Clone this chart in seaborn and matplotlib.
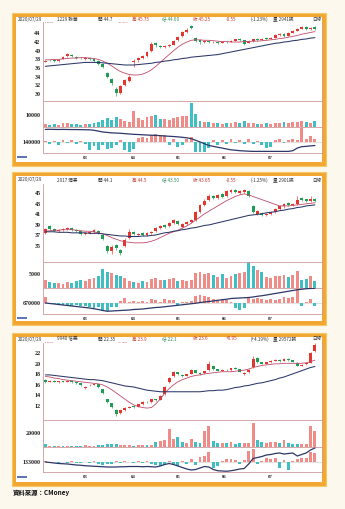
import numpy as np
import matplotlib
matplotlib.use("Agg")
import matplotlib.pyplot as plt
import seaborn as sns
from matplotlib.patches import Rectangle

sns.set_theme(style="white")
plt.rcParams["font.family"] = ["Noto Sans CJK TC", "DejaVu Sans"]

# ---------------- data ----------------
month_labels = ["03", "04", "05", "06", "07"]
month_pos = [9.0, 19.9, 30.0, 40.4, 50.8]

# Panel 1 : 1229
p1_open = [37.5,37.9,37.8,37.6,38.1,38.7,39.1,38.6,38.4,38.1,38.4,38.0,37.6,36.9,34.8,33.4,31.2,30.3,32.0,33.0,
           37.3,37.8,38.4,38.8,40.0,41.7,41.1,40.8,41.0,41.4,42.4,43.3,44.2,45.6,42.9,42.4,42.0,42.2,41.9,42.0,
           41.8,42.1,42.0,42.3,42.7,42.4,41.8,42.2,42.7,42.5,42.9,42.7,43.0,43.6,43.9,43.5,44.1,44.6,45.0,45.5,44.9,45.5]
p1_close = [37.7,37.8,37.6,37.9,38.6,39.2,38.7,38.3,38.2,38.4,38.1,37.6,37.0,36.2,34.0,32.5,30.2,31.8,33.2,34.0,
            37.6,38.3,38.7,39.6,41.6,41.2,40.9,41.0,41.3,42.3,43.2,44.3,44.8,45.2,42.3,42.0,42.2,41.9,42.0,41.8,
            42.1,42.0,42.3,42.6,42.5,41.6,42.2,42.6,42.5,42.8,42.7,43.0,43.6,43.9,43.4,44.1,44.6,45.1,45.4,44.9,45.3,45.0]
p1_high = [37.9,38.1,38.0,38.1,38.8,39.5,39.3,38.8,38.6,38.6,38.5,38.2,37.8,37.1,35.0,33.6,31.6,32.0,33.5,34.3,
           38.0,38.6,39.0,39.9,41.9,41.9,41.3,41.3,41.6,42.5,43.5,44.6,45.2,45.9,43.1,42.6,42.4,42.4,42.2,42.2,
           42.3,42.3,42.5,42.8,42.9,42.5,42.4,42.8,42.9,43.0,43.1,43.2,43.8,44.1,44.0,44.3,44.8,45.3,45.7,45.6,45.5,45.6]
p1_low = [37.3,37.6,37.4,37.5,38.0,38.6,38.5,38.1,38.0,37.9,37.9,37.4,36.8,35.9,33.7,32.0,29.6,30.0,31.8,32.8,
          36.2,37.5,38.1,38.6,39.8,40.9,40.6,40.6,40.8,41.2,42.2,43.1,44.0,44.9,41.9,41.5,41.8,41.7,41.7,41.6,
          41.7,41.8,41.9,42.2,42.3,41.4,41.7,42.1,42.3,42.4,42.5,42.6,42.9,43.4,43.2,43.4,44.0,44.5,44.9,44.7,44.8,44.8]
p1_ma_short = [37.9,37.9,38.0,38.0,38.1,38.2,38.3,38.3,38.4,38.4,38.3,38.2,38.0,37.6,37.1,36.5,35.8,35.2,34.8,34.5,
               34.4,34.4,34.6,35.0,35.6,36.4,37.3,38.2,39.1,40.0,40.8,41.5,42.0,42.4,42.5,42.5,42.4,42.4,42.3,42.2,
               42.1,42.1,42.0,42.0,42.0,42.1,42.1,42.2,42.2,42.3,42.4,42.5,42.6,42.8,42.9,43.1,43.3,43.5,43.8,44.0,44.2,44.4]
p1_ma_long = [36.4,36.5,36.6,36.7,36.8,36.9,37.0,37.1,37.2,37.3,37.3,37.3,37.3,37.2,37.1,37.0,36.9,36.8,36.7,36.7,
              36.7,36.8,36.9,37.0,37.1,37.3,37.4,37.6,37.7,37.9,38.0,38.2,38.3,38.5,38.6,38.7,38.8,38.9,39.0,39.1,
              39.3,39.5,39.7,39.9,40.1,40.3,40.5,40.7,40.9,41.1,41.3,41.5,41.7,41.8,42.0,42.1,42.3,42.4,42.6,42.7,42.9,43.0]
p1_volume = [2500,1800,2200,2000,3500,3000,2400,2100,1900,2600,2300,3000,4200,5500,7800,6200,8500,6800,5000,4500,
             13500,7500,6000,8200,9000,10200,7000,6500,5800,7200,8400,9500,8800,20000,11000,5000,4200,3800,3000,3500,
             2800,3300,3000,4000,3600,5200,3500,3000,2600,2800,3100,2500,3000,3400,4000,3500,4200,3800,4600,3900,3300,4800]
p1_netbuy = [150,-200,100,-300,250,-150,200,-250,150,-200,-900,-500,-950,-400,-850,-700,-300,200,-900,-1100,
             -800,500,600,450,800,900,700,850,-300,400,-550,-400,300,550,-1150,-1200,-1100,-700,200,-300,
             250,-200,300,-150,200,-250,350,-200,150,-300,-700,-600,200,300,-150,250,400,200,1600,300,650,350]
p1_cum = [1450,1460,1450,1440,1450,1440,1430,1430,1420,1410,1400,1350,1250,1150,1100,1050,1030,1000,960,920,
          880,860,830,800,780,760,730,690,660,630,590,540,480,380,200,0,-200,-400,-500,-600,
          -700,-800,-900,-950,-1000,-1030,-1060,-1080,-1080,-1080,-1080,-1080,-1080,-1080,-1080,-1080,-1000,-700,-540,-500,-450,-400]

# Panel 2 : 2917
p2_open = [37.5,38.8,38.2,37.9,38.0,38.2,38.5,38.1,37.8,37.2,37.4,37.7,37.9,37.1,35.0,34.0,35.2,34.3,35.0,36.6,
           37.6,37.1,37.4,37.1,37.4,37.8,38.4,39.0,38.8,39.3,39.8,38.6,39.1,39.5,40.0,41.5,42.8,43.7,44.5,44.2,
           44.8,44.5,45.3,45.6,45.1,45.3,45.5,42.5,41.0,41.2,40.8,41.1,41.5,42.0,42.5,43.1,42.7,43.0,44.2,43.9,43.5,44.0]
p2_close = [38.3,38.2,37.9,38.1,38.3,38.5,38.1,37.9,37.2,37.4,37.7,38.0,37.4,36.4,34.0,34.8,34.6,33.6,36.2,37.6,
            37.2,37.3,37.1,37.4,37.7,38.5,38.8,38.6,39.4,40.0,39.2,39.1,39.5,39.9,41.5,42.8,43.6,44.5,44.1,44.7,
            44.3,45.4,45.7,45.2,45.5,45.7,44.5,41.5,41.6,40.8,41.1,41.5,42.0,42.5,43.0,42.7,43.0,43.8,43.7,43.5,44.0,43.6]
p2_high = [38.5,39.0,38.4,38.3,38.5,38.7,38.6,38.3,37.9,37.6,37.9,38.2,38.0,37.2,35.2,35.2,35.4,34.5,36.5,38.2,
           37.8,37.5,37.6,37.6,37.9,38.7,39.0,39.2,39.6,40.2,39.9,39.3,39.7,40.1,41.7,43.0,43.9,44.8,44.7,44.9,
           45.0,45.6,45.9,45.8,45.7,45.9,45.6,42.7,41.8,41.4,41.3,41.7,42.2,42.7,43.2,43.3,43.2,44.4,44.3,44.0,44.5,44.1]
p2_low = [37.3,38.0,37.7,37.7,37.9,38.0,37.9,37.7,37.0,37.0,37.2,37.5,37.2,36.1,33.6,33.5,34.3,33.2,34.8,36.4,
          37.0,36.9,36.9,36.9,37.2,37.6,38.2,38.4,38.6,39.1,39.0,38.4,38.9,39.3,39.8,41.3,42.6,43.5,43.9,44.0,
          44.1,44.3,45.1,45.0,44.9,45.1,44.3,41.3,40.8,40.6,40.6,40.9,41.3,41.8,42.3,42.5,42.5,42.8,43.5,43.3,43.3,43.4]
p2_ma_short = [37.8,37.9,38.0,38.0,38.1,38.1,38.1,38.0,37.9,37.8,37.8,37.7,37.5,37.3,37.0,36.6,36.3,36.0,35.8,35.7,
               35.6,35.6,35.6,35.7,35.9,36.2,36.6,37.0,37.4,37.7,38.0,38.4,38.8,39.3,39.9,40.5,41.1,41.6,42.1,42.6,
               43.1,43.6,44.0,44.4,44.7,44.9,44.7,44.4,44.1,43.8,43.5,43.2,42.9,42.6,42.6,42.6,42.7,42.8,42.9,43.0,43.1,43.2]
p2_ma_long = [37.7,37.7,37.7,37.6,37.6,37.6,37.5,37.5,37.5,37.5,37.4,37.4,37.4,37.3,37.2,37.1,37.0,36.9,36.9,36.8,
              36.8,36.8,36.9,36.9,37.0,37.1,37.3,37.5,37.6,37.8,37.9,38.1,38.2,38.4,38.5,38.7,38.9,39.0,39.2,39.4,
              39.6,39.8,40.0,40.2,40.4,40.6,40.8,40.9,41.0,41.1,41.3,41.4,41.5,41.7,41.8,42.0,42.1,42.3,42.4,42.6,42.7,42.8]
p2_volume = [2800,2300,1800,2000,1600,2200,1900,2500,3000,2600,3400,3800,4200,6800,6000,5400,4600,4300,3500,2600,
             2200,2000,2400,2100,3200,3500,3000,2800,3300,3600,2600,2800,2500,2900,5600,5800,5200,5500,4600,4000,
             5000,3800,4400,5000,5600,6000,9400,8000,6500,5800,4000,3800,4300,4500,4700,4000,4600,6200,3000,3400,4500,2600]
p2_netbuy = [1300,-200,-150,-250,-300,-400,-500,-350,-600,-500,-700,-1000,-800,-1600,-1500,-800,-700,500,1000,300,
             400,300,500,200,800,700,300,800,700,600,-400,200,300,400,1500,1700,1400,1200,800,700,
             900,600,300,-1000,-1300,-900,1000,900,1100,800,700,800,600,900,1200,1000,1300,3000,-600,300,900,-600]
p2_cum = [0,-100,-200,-300,-400,-500,-600,-700,-800,-900,-1000,-1150,-1300,-1500,-1650,-1600,-1550,-1500,-1450,-1400,
          -1300,-1250,-1200,-1100,-1000,-900,-850,-750,-650,-550,-450,-350,-250,-150,-50,100,200,300,400,550,
          650,750,900,950,1000,1050,1100,1200,1350,1450,1600,1750,1900,2050,2200,2350,2500,2650,2750,2850,2900,2950]

# Panel 3 : 9940
p3_open = [17.0,16.6,16.8,16.5,16.7,16.6,16.8,16.5,16.3,15.4,15.9,16.0,16.1,15.2,13.3,12.5,11.3,10.6,11.2,11.7,
           12.0,11.9,12.3,12.8,12.7,13.3,13.2,14.2,16.5,17.6,18.4,17.9,17.7,18.1,18.8,18.3,18.2,18.8,19.6,19.0,
           18.7,18.9,18.8,19.3,19.0,18.0,18.4,19.4,21.2,20.3,20.0,20.3,20.6,20.8,20.6,21.0,20.7,20.2,19.6,19.9,20.2,22.4]
p3_close = [16.5,16.8,16.6,16.7,16.6,16.8,16.5,16.3,15.9,15.6,16.0,16.2,15.6,14.4,12.7,11.8,10.5,11.2,11.7,11.9,
            11.8,12.3,12.8,12.7,13.3,13.1,13.9,15.6,17.3,18.4,18.0,17.7,18.0,18.9,18.3,18.0,18.6,20.0,19.0,18.7,
            18.9,18.8,19.2,19.1,18.5,18.3,18.9,21.0,20.3,20.0,20.3,20.6,20.8,20.5,21.0,20.7,20.4,19.6,19.8,20.1,22.0,23.6]
p3_high = [17.1,16.9,16.9,16.8,16.8,16.9,16.9,16.6,16.4,15.7,16.1,16.3,16.2,15.3,13.4,12.6,11.4,11.3,11.8,12.0,
           12.1,12.4,12.9,12.9,13.4,13.4,14.0,15.7,17.5,18.6,18.5,18.0,18.1,19.0,18.9,18.4,18.7,20.5,19.7,19.1,
           19.0,19.0,19.3,19.4,19.1,18.4,19.0,21.4,21.3,20.4,20.4,20.7,20.9,20.9,21.1,21.1,20.8,20.3,19.9,20.2,22.2,23.9]
p3_low = [16.4,16.5,16.5,16.4,16.5,16.5,16.4,16.2,15.8,15.2,15.8,15.9,15.4,14.2,12.5,11.6,10.1,10.4,11.1,11.6,
          11.7,11.8,12.2,12.6,12.6,13.0,13.1,14.1,16.3,17.5,17.8,17.5,17.6,18.0,18.2,17.9,18.1,18.7,18.9,18.6,
          18.6,18.7,18.7,19.0,18.4,17.9,18.3,19.3,20.2,19.9,19.9,20.2,20.5,20.4,20.5,20.6,20.3,19.5,19.5,19.8,20.1,22.3]
p3_ma_short = [17.6,17.5,17.3,17.2,17.0,16.9,16.8,16.7,16.6,16.5,16.4,16.3,16.2,16.0,15.6,15.1,14.5,13.9,13.3,12.7,
               12.2,11.9,11.7,11.6,11.7,12.4,13.3,14.4,15.3,16.0,16.6,17.0,17.3,17.6,17.8,17.9,18.1,18.2,18.3,18.4,
               18.5,18.5,18.5,18.6,18.7,18.8,19.0,19.3,19.5,19.7,19.8,19.9,20.0,20.0,20.1,20.1,20.1,20.1,20.1,20.2,20.4,20.7]
p3_ma_long = [17.9,17.9,17.8,17.7,17.6,17.5,17.4,17.3,17.2,17.1,17.0,17.0,16.9,16.8,16.6,16.4,16.2,16.0,15.8,15.7,
              15.6,15.4,15.2,15.0,14.9,14.8,14.7,14.7,14.7,14.7,14.7,14.7,14.7,14.7,14.7,14.7,14.8,14.9,14.9,15.0,
              15.0,15.1,15.3,15.5,15.6,15.8,15.9,16.1,16.3,16.4,16.6,16.8,17.0,17.3,17.5,17.8,18.1,18.4,18.7,19.0,19.3,19.5]
p3_volume = [4500,2000,1800,1500,1700,1600,1400,1500,2000,2500,1800,1600,2200,3500,4000,3800,4200,3500,2800,2500,
             2000,2300,2600,2400,3200,7000,9000,9500,26000,12000,14000,7500,6500,12000,7000,6500,24000,30000,9000,6000,
             5500,6500,7000,5000,6500,5500,6000,34800,9500,7000,6000,8000,7500,6000,10500,6500,5000,4500,4000,5000,31000,24000]
p3_netbuy = [200,-100,100,-150,100,-100,150,-200,-100,100,-150,200,-300,-500,-400,-300,200,-200,150,100,
             -100,150,-100,200,-300,-600,-700,-500,300,-600,-700,200,-400,600,-500,1000,1200,2000,-1200,-800,
             200,600,700,500,-300,400,2200,2600,-400,300,800,700,900,-1200,500,-1600,300,600,900,800,2000,1800]
p3_cum = [0,-100,-200,-300,-350,-400,-500,-600,-650,-750,-800,-850,-900,-950,-1000,-1000,-1000,-950,-950,-900,
          -900,-900,-950,-900,-950,-1000,-800,-500,-300,-500,-800,-1100,-1400,-1600,-1500,-1200,-900,-1000,-1500,-1750,
          -1800,-1850,-1750,-1600,-1400,-1300,-400,700,900,1100,1400,1500,1700,1800,1600,1700,1800,1200,1500,1800,2400,2800]

# ---------------- styling / layout ----------------
W, H = 345, 509
UP, DN = "#e3362e", "#1f9d55"
VUP, VDN = "#f08c88", "#3fbfc4"
MA_S, MA_L = "#c04a6a", "#2d3768"
FRAME = "#cf9a9a"
ORANGE = "#f2a733"
SERIF = ["Liberation Serif", "DejaVu Serif"]

fig = plt.figure(figsize=(W / 100, H / 100), dpi=100)
fig.patch.set_facecolor("#fcf8ee")

bg = fig.add_axes([0, 0, 1, 1])
bg.set_xlim(0, W)
bg.set_ylim(H, 0)
bg.axis("off")


def add_ax(x0, y0, x1, y1):
    return fig.add_axes([x0 / W, 1 - y1 / H, (x1 - x0) / W, (y1 - y0) / H])


def t(x, y, s, size=3.3, color="#333333", ha="left", weight="normal"):
    bg.text(x, y, s, fontsize=size, color=color, ha=ha, va="center", fontweight=weight)


def style(ax):
    ax.set_facecolor("white")
    for sp in ax.spines.values():
        sp.set_color(FRAME)
        sp.set_linewidth(0.6)
    ax.set_xlim(-0.6, 62.6)
    ax.set_xlabel("")
    ax.set_ylabel("")
    ax.tick_params(length=0, pad=1.5, labelsize=4, colors="#222222")


def ylabels(ax, labels):
    ax.set_yticklabels(labels, fontsize=4.3, fontweight="bold", family=SERIF)


panels = [
    dict(o=p1_open, c=p1_close, h=p1_high, l=p1_low, ms=p1_ma_short, ml=p1_ma_long,
         v=p1_volume, nb=p1_netbuy, cum=p1_cum,
         box=(12, 12.5, 326, 165.5), main=(22.5, 101), vol=(101, 127), inst=(127, 152.5),
         ylim=(28.4, 46.5), yt=[44, 42, 40, 38, 36, 34, 32, 30],
         vlim=21667, vt=10000, vtl="10000", ilim=(-1208, 1725), itl="140000",
         head=("2020/07/29", "1229 聯華", "開 44.7", "高 45.75", "低 44.60", "收 45.25", "-0.55", "(-1.23%)", "量 2941張"),
         mav=("42.891", "41.101"),
         vleg=(236, 104), vvals=("2941", "3551", "2841"),
         ileg1=(200, 130, "三大法人", "-7735張"), ileg2=(277, 130, "-144857張", "-4771張")),
    dict(o=p2_open, c=p2_close, h=p2_high, l=p2_low, ms=p2_ma_short, ml=p2_ma_long,
         v=p2_volume, nb=p2_netbuy, cum=p2_cum,
         box=(12, 172, 326, 325), main=(183.5, 261.5), vol=(261.5, 288), inst=(288, 313.5),
         ylim=(32.06, 46.86), yt=[45, 43, 41, 39, 37, 35],
         vlim=9670, vt=5000, vtl="5000", ilim=(-2100, 3000), itl="670000",
         head=("2020/07/29", "2917 潤泰", "開 44.1", "高 44.5", "低 43.50", "收 43.65", "-0.55", "(-1.25%)", "量 2901張"),
         mav=("42.891", "41.701"),
         vleg=(113, 264), vvals=("2901", "3629", "3331"),
         ileg1=(45, 290.5, "三大法人", "-7735張"), ileg2=(120, 290.5, "-59379張", "-1469張")),
    dict(o=p3_open, c=p3_close, h=p3_high, l=p3_low, ms=p3_ma_short, ml=p3_ma_long,
         v=p3_volume, nb=p3_netbuy, cum=p3_cum,
         box=(12, 333, 326, 486), main=(342.5, 420), vol=(420, 447), inst=(447, 472),
         ylim=(9.34, 24.05), yt=[22, 20, 18, 16, 14, 12],
         vlim=39400, vt=20000, vtl="20000", ilim=(-2000, 3000), itl="133000",
         head=("2020/07/29", "9940 信義", "開 22.35", "高 23.9", "低 22.1", "收 23.6", "+0.95", "(+4.19%)", "量 29572張"),
         mav=("20.701", "19.511"),
         vleg=(45, 423), vvals=("29572", "18001", "8801"),
         ileg1=(45, 449.5, "三大法人", "-15049張"), ileg2=(118, 449.5, "-142097張", "-1195張")),
]

X0, X1 = 42.7, 322.0

for P in panels:
    bx0, by0, bx1, by1 = P["box"]
    bg.add_patch(Rectangle((bx0, by0), bx1 - bx0, by1 - by0, facecolor=ORANGE, edgecolor="#f7c766", lw=0.8, zorder=0))
    bg.add_patch(Rectangle((bx0 + 4, by0 + 4), bx1 - bx0 - 8, by1 - by0 - 8, facecolor="white", lw=0, zorder=1))

    o = np.asarray(P["o"]); c = np.asarray(P["c"])
    hi = np.asarray(P["h"]); lo = np.asarray(P["l"])
    n = len(o)
    idx = np.arange(n)
    up = c >= o

    # main price pane
    ax = add_ax(X0, P["main"][0], X1, P["main"][1])
    ax.vlines(idx, lo, hi, colors=np.where(up, UP, DN), lw=0.45, zorder=2)
    ax.bar(idx, np.maximum(np.abs(c - o), 0.06), bottom=np.minimum(o, c), width=0.66,
           color=np.where(up, UP, DN), lw=0, zorder=3)
    sns.lineplot(x=idx, y=P["ms"], ax=ax, color=MA_S, linewidth=0.6, legend=False, zorder=4)
    sns.lineplot(x=idx, y=P["ml"], ax=ax, color=MA_L, linewidth=0.75, legend=False, zorder=4)
    style(ax)
    ax.set_ylim(*P["ylim"])
    ax.set_xticks([])
    ax.set_yticks(P["yt"])
    ylabels(ax, [str(v) for v in P["yt"]])
    ax.spines["top"].set_visible(False)

    # volume pane
    axv = add_ax(X0, P["vol"][0], X1, P["vol"][1])
    axv.bar(idx, P["v"], width=0.66, color=np.where(up, VUP, VDN), lw=0)
    style(axv)
    axv.set_ylim(0, P["vlim"])
    axv.set_xticks([])
    axv.set_yticks([P["vt"]])
    ylabels(axv, [P["vtl"]])

    # institutional pane
    axi = add_ax(X0, P["inst"][0], X1, P["inst"][1])
    nb = np.asarray(P["nb"])
    axi.bar(idx, nb, width=0.66, color=np.where(nb >= 0, VUP, VDN), lw=0, zorder=2)
    axi.axhline(0, color="#d9c7c7", lw=0.4, zorder=1)
    cum = np.asarray(P["cum"], dtype=float)
    axi.plot(idx, cum, color=MA_L, linewidth=0.9, zorder=10, solid_joinstyle="round")
    style(axi)
    axi.set_ylim(*P["ilim"])
    axi.set_yticks([0])
    ylabels(axi, [P["itl"]])
    axi.set_xticks(month_pos)
    axi.set_xticklabels(month_labels, fontsize=3.5, color="#333333", family=SERIF, fontweight="bold")
    axi.tick_params(axis="x", pad=2.2)

    # header texts
    hy = P["main"][0] - 3.5
    hd = P["head"]
    xs = [18, 57, 98, 132, 162, 193, 226, 251, 273]
    cols = ["#333333", "#333333", "#333333", "#c0392b", "#2e8b57", "#c0392b", "#c0392b", "#333333", "#333333"]
    for x, s, col in zip(xs, hd, cols):
        t(x, hy, s, color=col)
    t(312, hy, "日線")
    my = P["main"][0] + 1.8
    t(45, my, "MA20", size=2.6, color=MA_S)
    t(45, my + 3, "MA60", size=2.6, color=MA_L)
    t(118, my, P["mav"][0], size=2.6, color=MA_S)
    t(118, my + 3, P["mav"][1], size=2.6, color=MA_L)

    # volume legend
    vx, vy = P["vleg"]
    t(vx, vy, "VOL", size=2.8, color="#333333", weight="bold")
    bg.plot([vx + 10, vx + 80], [vy + 1.2, vy + 1.2], color="#bcd8ee", lw=0.5)
    t(vx, vy + 3.2, "MA5", size=2.5, color="#d04040")
    t(vx, vy + 6.2, "20", size=2.5, color="#333333")
    for k, s in enumerate(P["vvals"]):
        t(vx + 84, vy + 3 * k, s, size=2.5, color="#333333", ha="right")

    # institutional legends
    a = P["ileg1"]; b = P["ileg2"]
    t(a[0], a[1], a[2], size=2.8, color="#4466aa")
    t(a[0], a[1] + 3, a[3], size=2.5, color="#333333")
    t(b[0], b[1], b[2], size=2.5, color="#333333")
    t(b[0], b[1] + 3, b[3], size=2.5, color="#333333")

    # small blue marker bottom-left
    ly = P["inst"][1] + 4.5
    bg.plot([16.5, 27], [ly, ly], color="#3b5aa8", lw=1.2, solid_capstyle="butt")

t(13, 492, "資料來源：CMoney", size=4.6, color="#111111", weight="bold")

fig.savefig("out.png", dpi=100, facecolor=fig.get_facecolor())
